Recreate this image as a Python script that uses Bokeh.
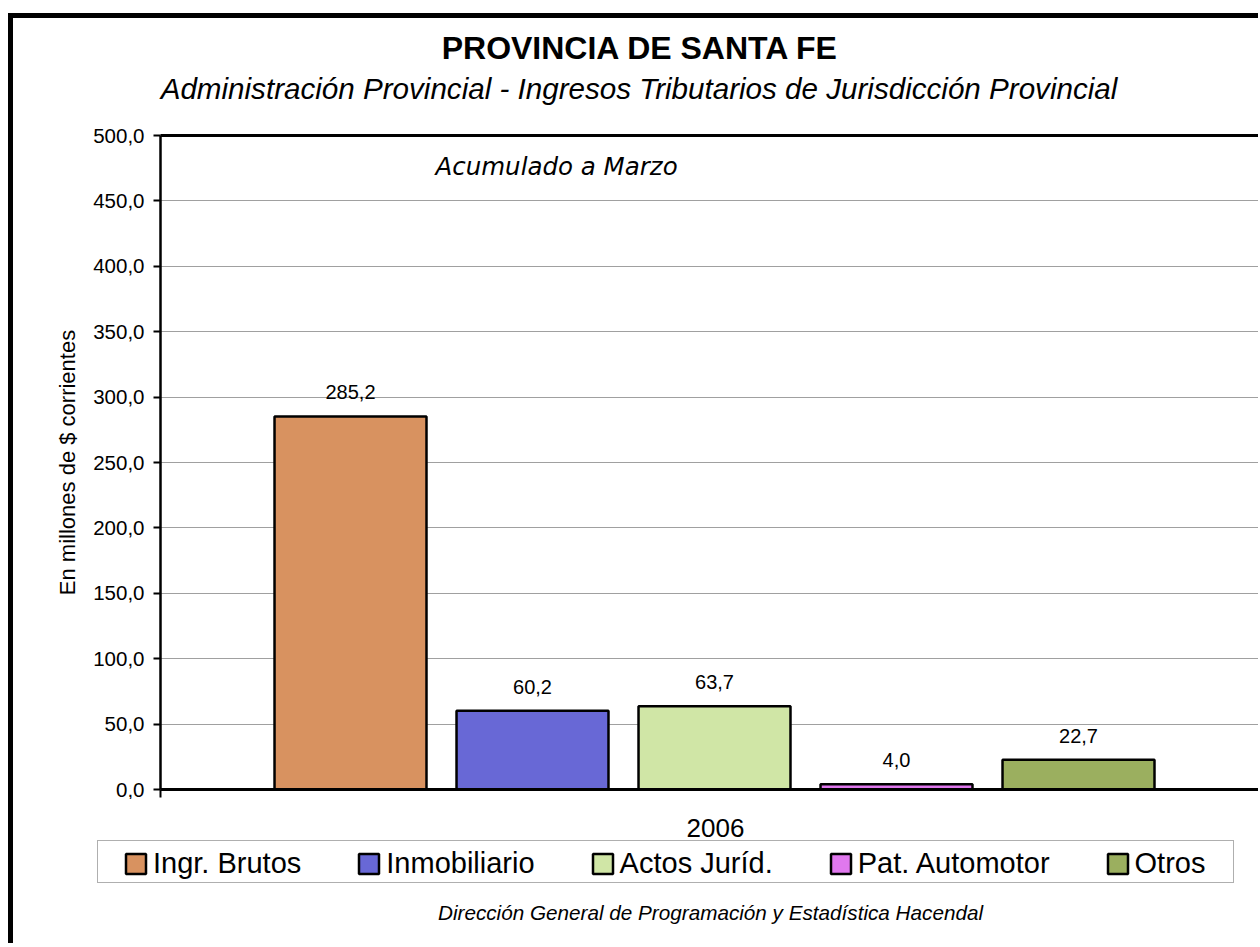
import numpy as np
from bokeh.plotting import figure
from bokeh.layouts import column
from bokeh.models import (Range1d, FixedTicker, CustomJSTickFormatter, LinearAxis, Label,
                          LabelSet, ColumnDataSource, Legend, LegendItem)
from bokeh.core.properties import value
from bokeh.embed import file_html
from bokeh.resources import INLINE

# ---------------- data ----------------
categories = ["Ingr. Brutos", "Inmobiliario", "Actos Juríd.", "Pat. Automotor", "Otros"]
values = [285.2, 60.2, 63.7, 4.0, 22.7]
colors = ["#D89260", "#6868D6", "#D0E6A6", "#E078EE", "#9BAF5F"]
y_ticks = [0, 50, 100, 150, 200, 250, 300, 350, 400, 450, 500]
year_label = "2006"
title_text = "PROVINCIA DE SANTA FE"
subtitle_text = "Administración Provincial - Ingresos Tributarios de Jurisdicción Provincial"
note_text = "Acumulado a Marzo"
y_title = "En millones de $ corrientes"
footer_text = "Dirección General de Programación y Estadística Hacendal"

FONT = "Liberation Sans"

# ---------------- layout (content origin at page x=13, y=18) ----------------
W = 1245
HEAD_H = 107
MAIN_H = 674
FOOT_H = 144
FL = 147
MB_TOP, MB_BOT = 10, 10


def blank(height):
    f = figure(width=W, height=height, output_backend="svg", toolbar_location=None,
               x_range=Range1d(0, 1), y_range=Range1d(0, 1), min_border=0,
               x_axis_type=None, y_axis_type=None, frame_align=False)
    f.outline_line_color = None
    f.background_fill_color = "white"
    f.border_fill_color = "white"
    return f


def lab(fig, text, x, y, size, style="normal", align="center", font=FONT):
    # y is the wanted baseline (screen units from the frame bottom)
    px = float(size.replace("px", ""))
    fig.add_layout(Label(x=x, y=y + round(0.37 * px), x_units="screen", y_units="screen",
                         text=text, text_font=font, text_font_size=size,
                         text_font_style=style, text_align=align,
                         text_baseline="alphabetic", text_color="black"))


# ---------------- header ----------------
head = blank(HEAD_H)
lab(head, title_text, 627, 66, "32px", "bold")
lab(head, subtitle_text, 625.5, 26, "29.6px", "italic")

# ---------------- main plot ----------------
frame_w = W - FL
xs = list(range(len(categories)))
mid = (len(categories) - 1) / 2
x_start = mid - 3.044
x_end = x_start + frame_w / 182.0

labels = [f"{v:.1f}".replace(".", ",") for v in values]
src = ColumnDataSource(dict(x=xs, top=values, color=colors, cat=categories, lab=labels))

p = figure(width=W, height=MAIN_H, output_backend="svg", toolbar_location=None,
           x_range=Range1d(x_start, x_end), y_range=Range1d(0, 500),
           min_border_left=FL, min_border_right=0, min_border_top=MB_TOP,
           min_border_bottom=MB_BOT, frame_align=False)
p.outline_line_color = None
p.background_fill_color = "white"
p.border_fill_color = "white"

p.xgrid.visible = False
p.ygrid.ticker = FixedTicker(ticks=y_ticks)
p.ygrid.grid_line_color = "#A0A0A0"
p.ygrid.grid_line_width = 1

ya = p.yaxis[0]
ya.ticker = FixedTicker(ticks=y_ticks)
ya.formatter = CustomJSTickFormatter(code="return tick.toFixed(1).replace('.', ',');")
ya.axis_line_color = "black"
ya.axis_line_width = 2.5
ya.major_tick_line_color = "black"
ya.major_tick_line_width = 2
ya.major_tick_out = 7
ya.major_tick_in = 0
ya.minor_tick_out = 0
ya.minor_tick_in = 0
ya.major_label_standoff = 9
ya.major_label_text_font = FONT
ya.major_label_text_font_size = "20.5px"
ya.major_label_text_color = "black"
ya.axis_label = y_title
ya.axis_label_text_font = FONT
ya.axis_label_text_font_size = "22px"
ya.axis_label_text_font_style = "normal"
ya.axis_label_text_color = "black"
ya.axis_label_standoff = 10

xa = p.xaxis[0]
xa.ticker = FixedTicker(ticks=[x_start])
xa.formatter = CustomJSTickFormatter(code="return '';")
xa.axis_line_color = "black"
xa.axis_line_width = 3
xa.major_tick_line_color = "black"
xa.major_tick_line_width = 2
xa.major_tick_out = 8
xa.major_tick_in = 0
xa.minor_tick_out = 0
xa.minor_tick_in = 0
xa.major_label_text_font_size = "1px"
xa.major_label_standoff = 0

top_axis = LinearAxis(ticker=FixedTicker(ticks=[]), axis_line_color="black", axis_line_width=3,
                      major_tick_out=0, major_tick_in=0, minor_tick_out=0, minor_tick_in=0,
                      major_label_text_font_size="1px", major_label_standoff=0)
p.add_layout(top_axis, "above")

r = p.vbar(x="x", top="top", width=0.835, source=src, fill_color="color",
           line_color="black", line_width=2.5)

p.add_layout(LabelSet(x="x", y="top", text="lab", source=src, text_align="center",
                      text_baseline="alphabetic", y_offset=17,
                      text_font=value(FONT), text_font_size=value("20px"),
                      text_color=value("black")))

lab(p, note_text, 275, 614, "24.5px", "italic", "left", "DejaVu Sans")

# ---------------- footer (legend, year, source) ----------------
foot = blank(FOOT_H)

box_r = foot.quad(left=[], right=[], top=[], bottom=[], fill_alpha=0, line_alpha=0)
box_leg = Legend(items=[LegendItem(label=value(" "), renderers=[box_r])],
                 location=(84, 60), orientation="horizontal", padding=0, margin=0,
                 spacing=0, glyph_width=1135, glyph_height=41, label_width=0,
                 label_height=0, label_standoff=0, label_text_font_size="1px",
                 border_line_color="#606060", border_line_width=1.5,
                 background_fill_color="white", background_fill_alpha=1)
foot.add_layout(box_leg)

# legend-only swatches (positions are NaN, so nothing is drawn in the footer area)
leg_src = ColumnDataSource(dict(x=np.full(len(categories), np.nan),
                                top=np.full(len(categories), np.nan), color=colors))
leg_r = foot.vbar(x="x", top="top", width=1, source=leg_src, fill_color="color",
                  line_color="black", line_width=2.5)
items = [LegendItem(label=value(c), renderers=[leg_r], index=i) for i, c in enumerate(categories)]
leg = Legend(items=items, location=(110, 63), orientation="horizontal", padding=0, margin=0,
             spacing=55, glyph_width=25, glyph_height=25, label_standoff=5,
             label_height=20, label_text_font=FONT, label_text_font_size="29px",
             label_text_color="black", border_line_color=None, background_fill_alpha=0)
foot.add_layout(leg)

lab(foot, year_label, 702, 106, "26px")
lab(foot, footer_text, 697, 23, "20.7px", "italic")

layout = column(head, p, foot, spacing=0)
layout.styles = {"margin-left": "8px", "margin-top": "13px",
                 "border-left": "5px solid black", "border-top": "5px solid black"}

open("out.html", "w").write(file_html(layout, INLINE))
